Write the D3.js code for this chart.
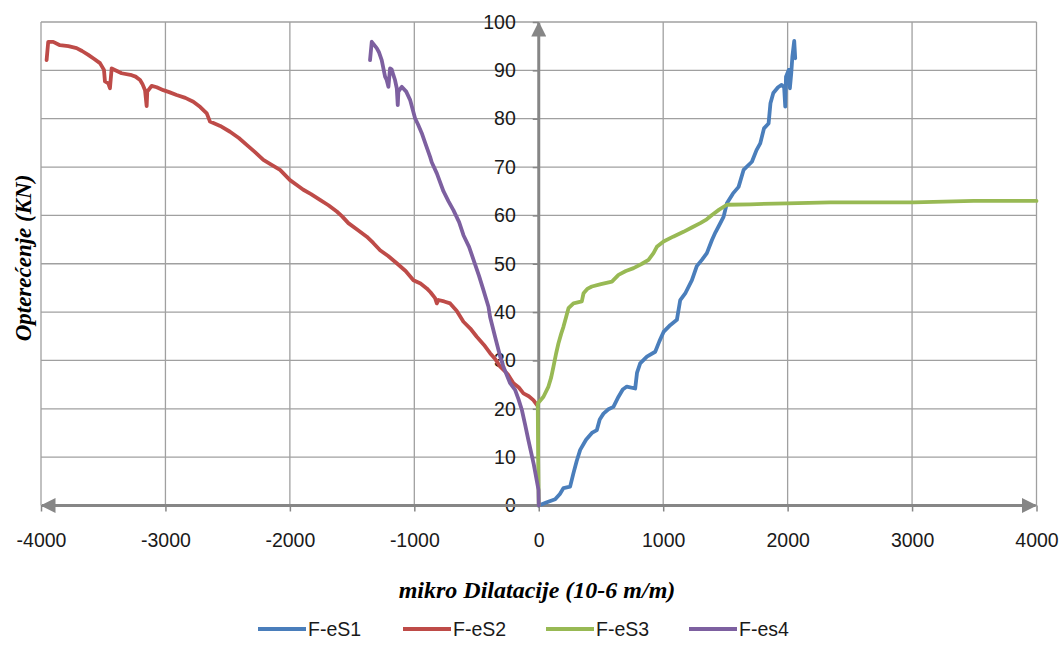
<!DOCTYPE html>
<html>
<head>
<meta charset="utf-8">
<script src="https://cdn.jsdelivr.net/npm/d3@7"></script>
<style>
  html, body { margin: 0; padding: 0; background: #fff; }
  svg { display: block; }
</style>
</head>
<body>
<svg id="chart" width="1062" height="664"></svg>
<script>
// ---------- data (x: micro strain, y: load kN) ----------
const seriesNames = ["F-eS1", "F-eS2", "F-eS3", "F-es4"];
const seriesColors = ["#4A7EBB", "#BE4B48", "#98B954", "#7D60A0"];

const eS1 = [[0,0],[60,0.6],[132,1.3],[170,2.4],[199,3.6],[252,3.9],[279,6.7],[305,9.2],[333,11.5],[380,13.6],[427,15],[467,15.6],[490,17.8],[520,19],[560,19.9],[600,20.4],[641,22.5],[675,24],[708,24.6],[775,24.2],[790,27.5],[815,29.4],[869,30.8],[936,31.8],[970,34],[1003,35.9],[1056,37.3],[1110,38.4],[1137,42.5],[1180,44],[1231,46.6],[1270,49.5],[1311,50.8],[1351,52.2],[1392,54.9],[1420,56.5],[1445,57.7],[1485,59.7],[1512,62.5],[1560,64.5],[1606,65.9],[1646,69.4],[1713,71.1],[1750,73.5],[1780,74.9],[1810,78],[1847,79.0],[1862,83.2],[1885,85.3],[1923,86.5],[1952,87.0],[1972,86.5],[1981,82.5],[1987,88.7],[2009,90.1],[2018,86.3],[2029,89.4],[2038,92.8],[2053,96.1],[2061,92.5]];

const eS2 = [[-15,20.8],[-43,21.8],[-80,22.6],[-123,23.2],[-160,24.4],[-203,25.3],[-250,27.2],[-310,28.7],[-350,30.3],[-391,31.5],[-440,33.2],[-498,34.9],[-550,36.6],[-605,38.0],[-660,40.3],[-712,41.8],[-760,42.2],[-806,42.5],[-819,41.8],[-833,42.9],[-870,44.1],[-900,44.9],[-950,45.9],[-1007,46.6],[-1070,48.5],[-1141,50.1],[-1210,51.6],[-1275,52.8],[-1330,54.3],[-1382,55.6],[-1460,57.1],[-1530,58.4],[-1580,59.8],[-1623,60.8],[-1690,62.1],[-1758,63.2],[-1830,64.4],[-1892,65.3],[-1950,66.4],[-1999,67.3],[-2079,69.4],[-2150,70.5],[-2213,71.5],[-2280,73.1],[-2347,74.6],[-2410,76.0],[-2481,77.3],[-2560,78.5],[-2642,79.4],[-2668,81.1],[-2720,82.4],[-2776,83.5],[-2840,84.3],[-2910,84.9],[-2970,85.5],[-3017,85.9],[-3070,86.5],[-3111,86.8],[-3146,85.6],[-3151,82.6],[-3164,85.9],[-3185,87.2],[-3204,88.0],[-3240,88.7],[-3271,89.0],[-3352,89.4],[-3432,90.4],[-3446,86.3],[-3459,87.3],[-3486,87.7],[-3494,90.1],[-3526,91.5],[-3575,92.4],[-3620,93.2],[-3670,94.0],[-3714,94.6],[-3780,95.0],[-3848,95.2],[-3902,95.9],[-3942,95.9],[-3955,92.1]];

const eS3 = [[0,0],[-5,10],[-8,21.1],[38,22.5],[78,24.6],[100,26.5],[118,28.7],[140,31.5],[158,33.5],[180,35.5],[199,37.0],[220,39.0],[239,40.8],[279,41.8],[346,42.2],[360,43.9],[390,44.8],[427,45.3],[500,45.8],[588,46.3],[641,47.7],[700,48.5],[762,49.1],[830,50.0],[882,50.8],[922,52.2],[949,53.5],[1003,54.6],[1080,55.6],[1163,56.6],[1230,57.5],[1298,58.4],[1350,59.2],[1392,60.1],[1450,61.2],[1512,62.2],[1700,62.3],[1995,62.5],[2343,62.7],[3013,62.7],[3495,63.0],[4000,63.0]];

const eS4 = [[0,0],[-2,3.2],[-40,8.5],[-83,13.5],[-110,16.8],[-136,19.8],[-163,22.0],[-190,23.9],[-230,25.3],[-284,28.7],[-310,30.8],[-351,34.9],[-391,39.0],[-404,41.1],[-445,44.6],[-480,47.5],[-520,50.5],[-560,53.5],[-605,55.9],[-640,58.6],[-686,61.1],[-725,62.9],[-766,65.0],[-819,68.7],[-860,71.0],[-873,72.1],[-910,74.8],[-940,77.0],[-970,78.8],[-994,80.1],[-1034,83.9],[-1065,85.6],[-1101,86.6],[-1128,85.6],[-1133,82.8],[-1141,86.3],[-1155,88.0],[-1168,89.0],[-1182,90.2],[-1195,90.4],[-1208,86.6],[-1222,88.0],[-1235,88.7],[-1262,92.1],[-1285,93.8],[-1302,94.6],[-1342,95.9],[-1356,92.1]];

const seriesData = [eS1, eS2, eS3, eS4];

const xTicks = [-4000, -3000, -2000, -1000, 0, 1000, 2000, 3000, 4000];
const yTicks = [0, 10, 20, 30, 40, 50, 60, 70, 80, 90, 100];
const xTitle = "mikro Dilatacije (10-6 m/m)";
const yTitle = "Opterećenje (KN)";

// ---------- layout ----------
const svg = d3.select("#chart");
const x = d3.scaleLinear().domain([-4000, 4000]).range([41, 1036.5]);
const y = d3.scaleLinear().domain([0, 100]).range([505.5, 22]);

const gridColor = "#a0a0a0";
const axisColor = "#868686";

// gridlines
svg.append("g").selectAll("line.v").data(xTicks).join("line")
  .attr("x1", d => x(d)).attr("x2", d => x(d))
  .attr("y1", y(0)).attr("y2", y(100))
  .attr("stroke", gridColor).attr("stroke-width", 1.3);
svg.append("g").selectAll("line.h").data(yTicks).join("line")
  .attr("x1", x(-4000)).attr("x2", x(4000))
  .attr("y1", d => y(d)).attr("y2", d => y(d))
  .attr("stroke", gridColor).attr("stroke-width", 1.3);

// axes via d3 axis generators (ticks & labels)
const xAxis = d3.axisBottom(x).tickValues(xTicks).tickSize(6).tickPadding(22).tickFormat(d3.format("d"));
const gx = svg.append("g").attr("transform", `translate(0,${y(0)})`).call(xAxis);
gx.select(".domain").remove();
gx.selectAll(".tick line").attr("stroke", axisColor).attr("stroke-width", 1.5);
gx.selectAll(".tick text")
  .attr("font-family", "'Liberation Sans', Arial, sans-serif")
  .attr("font-size", 19.5).attr("fill", "#1a1a1a")
  .text(d => d < 0 ? "-" + Math.abs(d) : d);

const yAxis = d3.axisLeft(y).tickValues(yTicks).tickSize(6).tickPadding(17);
const gy = svg.append("g").attr("transform", `translate(${x(0)},0)`).call(yAxis);
gy.select(".domain").remove();
gy.selectAll(".tick line").attr("stroke", axisColor).attr("stroke-width", 1.5);
gy.selectAll(".tick text")
  .attr("font-family", "'Liberation Sans', Arial, sans-serif")
  .attr("font-size", 19.5).attr("fill", "#1a1a1a");

// axis lines with arrows
const defs = svg.append("defs");
defs.append("marker").attr("id", "arrow")
  .attr("viewBox", "0 0 10 10").attr("refX", 9).attr("refY", 5)
  .attr("markerWidth", 5).attr("markerHeight", 5)
  .attr("markerUnits", "strokeWidth")
  .attr("orient", "auto-start-reverse")
  .append("path").attr("d", "M0,0 L10,5 L0,10 Z").attr("fill", axisColor);

svg.append("line")
  .attr("x1", x(-4000) + 1).attr("x2", x(4000) - 1)
  .attr("y1", y(0)).attr("y2", y(0))
  .attr("stroke", axisColor).attr("stroke-width", 3)
  .attr("marker-start", "url(#arrow)").attr("marker-end", "url(#arrow)");
svg.append("line")
  .attr("x1", x(0)).attr("x2", x(0))
  .attr("y1", y(0)).attr("y2", y(100) + 1)
  .attr("stroke", axisColor).attr("stroke-width", 3)
  .attr("marker-end", "url(#arrow)");

// series lines
const line = d3.line().x(d => x(d[0])).y(d => y(d[1]));
svg.append("g").selectAll("path").data(seriesData).join("path")
  .attr("d", line)
  .attr("fill", "none")
  .attr("stroke", (d, i) => seriesColors[i])
  .attr("stroke-width", 3.8)
  .attr("stroke-linejoin", "round")
  .attr("stroke-linecap", "round");

// axis titles
svg.append("text")
  .attr("x", 537).attr("y", 598)
  .attr("text-anchor", "middle")
  .attr("font-family", "'Liberation Serif', 'Times New Roman', serif")
  .attr("font-style", "italic").attr("font-weight", "bold")
  .attr("font-size", 24).attr("fill", "#000")
  .text(xTitle);

svg.append("text")
  .attr("transform", "translate(31,258) rotate(-90)")
  .attr("text-anchor", "middle")
  .attr("font-family", "'Liberation Serif', 'Times New Roman', serif")
  .attr("font-style", "italic").attr("font-weight", "bold")
  .attr("font-size", 23).attr("fill", "#000")
  .text(yTitle);

// legend
const legendX = [258, 403, 546, 689];
const lg = svg.append("g").selectAll("g").data(seriesNames).join("g")
  .attr("transform", (d, i) => `translate(${legendX[i]},629)`);
lg.append("line").attr("x1", 0).attr("x2", 48).attr("y1", 0).attr("y2", 0)
  .attr("stroke", (d, i) => seriesColors[i]).attr("stroke-width", 3.8);
lg.append("text").attr("x", 50).attr("y", 0).attr("dy", "0.35em")
  .attr("font-family", "'Liberation Sans', Arial, sans-serif")
  .attr("font-size", 19.5).attr("fill", "#1a1a1a")
  .text(d => d);
</script>
</body>
</html>
